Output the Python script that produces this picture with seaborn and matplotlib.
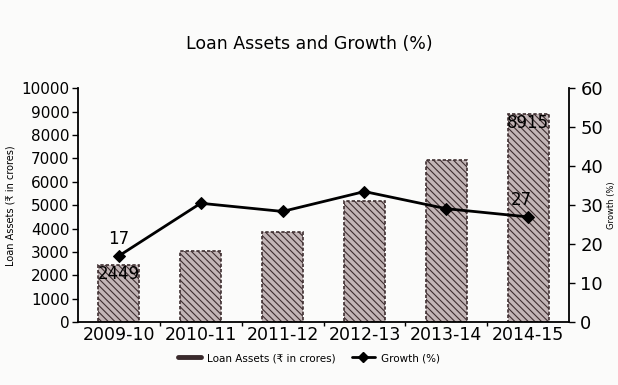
import numpy as np
import pandas as pd
import matplotlib
matplotlib.use("Agg")
import matplotlib.pyplot as plt
from matplotlib.lines import Line2D
from matplotlib.ticker import FixedLocator
import seaborn as sns

# Loan assets (₹ in crores) and year-on-year growth (%)
years = ["2009-10", "2010-11", "2011-12", "2012-13", "2013-14", "2014-15"]
loan_assets = [2449, 3030, 3850, 5200, 6950, 8915]
growth = [17, 30.5, 28.4, 33.5, 29.1, 27]

df = pd.DataFrame({"year": years, "loans": loan_assets, "growth": growth})

sns.set_theme(style="white")
plt.rcParams["font.family"] = ["DejaVu Sans"]
plt.rcParams["text.color"] = "black"
plt.rcParams["axes.labelcolor"] = "black"
plt.rcParams["xtick.color"] = "black"
plt.rcParams["ytick.color"] = "black"
plt.rcParams["hatch.color"] = "#85777a"
plt.rcParams["hatch.linewidth"] = 0.8

fig = plt.figure(figsize=(6.18, 3.85), dpi=100)
fig.patch.set_facecolor("#fbfbfa")
ax = fig.add_axes([0.126, 0.163, 0.795, 0.608])
ax.set_facecolor("none")

sns.barplot(data=df, x="year", y="loans", ax=ax, color="#c2b5b6",
            width=0.5, saturation=1, edgecolor="#3e2e30", linewidth=1.2)
for p in ax.patches:
    p.set_hatch("\\\\\\\\\\")
    p.set_linestyle((0, (2, 1.2)))

ax.set_ylim(0, 10000)
ax.set_xlim(-0.5, 5.5)
ax.set_yticks(np.arange(0, 10001, 1000))
ax.set_xlabel("")
ax.set_ylabel("Loan Assets (₹ in crores)", fontsize=7, labelpad=4)
ax.tick_params(axis="y", labelsize=11, length=4, width=1, pad=2, direction="out", left=True)
ax.tick_params(axis="x", which="major", labelsize=12.5, length=0, pad=3)
ax.xaxis.set_minor_locator(FixedLocator(np.arange(0.5, 5.5, 1.0)))
ax.tick_params(axis="x", which="minor", length=3, width=1, direction="out", bottom=True)
for side in ["top", "right"]:
    ax.spines[side].set_visible(False)
for side in ["left", "bottom"]:
    ax.spines[side].set_color("black")
    ax.spines[side].set_linewidth(1.3)

ax2 = ax.twinx()
sns.lineplot(data=df, x="year", y="growth", ax=ax2, color="black",
             marker="D", markersize=6, linewidth=2, markeredgecolor="black")
ax2.set_ylim(0, 60)
ax2.set_yticks(np.arange(0, 61, 10))
ax2.set_xlim(-0.5, 5.5)
ax2.set_ylabel("Growth (%)", fontsize=6)
ax2.yaxis.set_label_coords(1.077, 0.5)
ax2.tick_params(axis="y", labelsize=13, length=4, width=1, pad=4, direction="out", right=True)
for side in ["top", "left", "bottom"]:
    ax2.spines[side].set_visible(False)
ax2.spines["right"].set_color("black")
ax2.spines["right"].set_linewidth(1.3)

# value labels
ax.text(0, loan_assets[0], f"{loan_assets[0]}", ha="center", va="top", fontsize=12)
ax.text(5, loan_assets[5], f"{loan_assets[5]}", ha="center", va="top", fontsize=12)
ax2.annotate(f"{growth[0]:g}", (0, growth[0]), xytext=(0, 6), textcoords="offset points",
             ha="center", va="bottom", fontsize=12)
ax2.annotate(f"{growth[5]:g}", (5, growth[5]), xytext=(-5, 6), textcoords="offset points",
             ha="center", va="bottom", fontsize=12)

fig.text(0.5, 0.885, "Loan Assets and Growth (%)", ha="center", va="center", fontsize=12.5)

handles = [Line2D([], [], color="#3a2a2c", linewidth=3.5),
           Line2D([], [], color="black", linewidth=2, marker="D", markersize=5)]
fig.legend(handles, ["Loan Assets (₹ in crores)", "Growth (%)"], loc="center",
           bbox_to_anchor=(0.5, 0.07), ncol=2, frameon=False, fontsize=7.5,
           handlelength=2.2, columnspacing=1.5, handletextpad=0.6)

fig.savefig("out.png", dpi=100, facecolor=fig.get_facecolor())
